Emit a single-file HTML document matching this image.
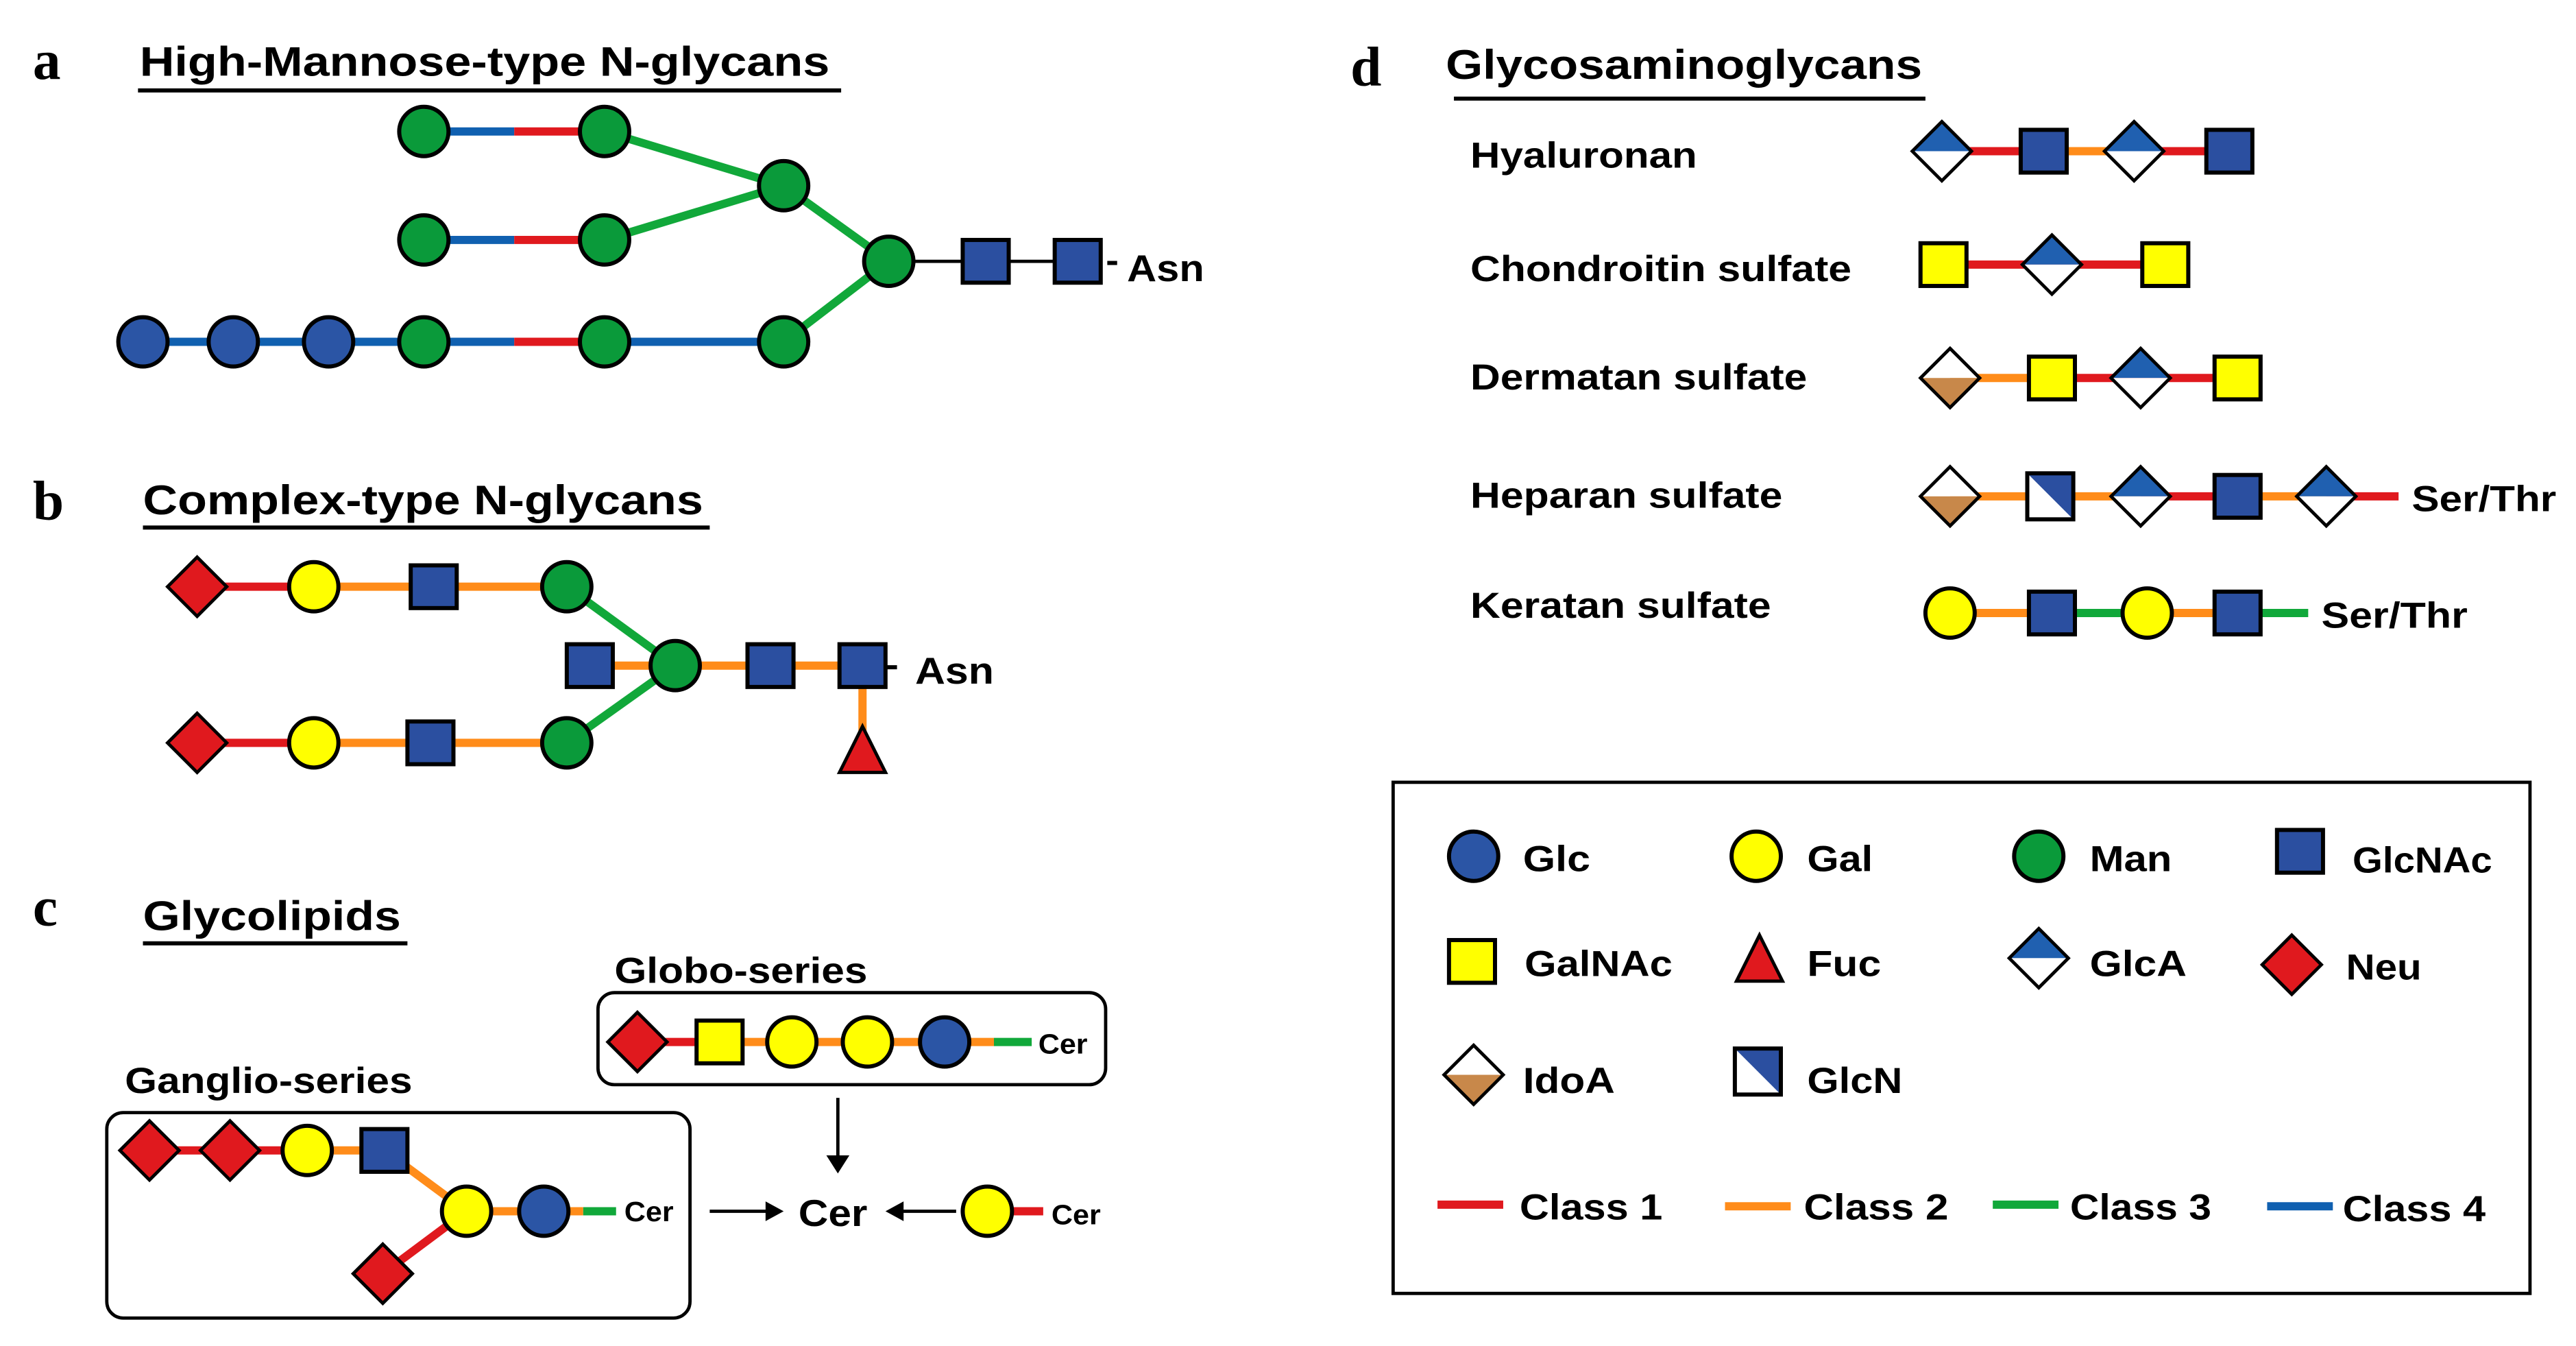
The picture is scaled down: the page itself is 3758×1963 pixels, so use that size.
<!DOCTYPE html>
<html><head><meta charset="utf-8"><style>
html,body{margin:0;padding:0;background:#fff}
svg{display:block}
text{font-family:"Liberation Sans",Arial,sans-serif;font-weight:bold;fill:#000}
</style></head><body>
<svg width="3758" height="1963" viewBox="0 0 1568 819" preserveAspectRatio="none" xmlns="http://www.w3.org/2000/svg">
<defs>
<circle id="glc" r="15" fill="#2b55a5" stroke="#000" stroke-width="2.5"/>
<circle id="gal" r="15" fill="#ffff00" stroke="#000" stroke-width="2.5"/>
<circle id="man" r="15" fill="#0a9a3a" stroke="#000" stroke-width="2.5"/>
<rect id="gnac" x="-14" y="-13" width="28" height="26" fill="#2b4fa0" stroke="#000" stroke-width="2.5"/>
<rect id="ganac" x="-14" y="-13" width="28" height="26" fill="#ffff00" stroke="#000" stroke-width="2.5"/>
<polygon id="neu" points="0,-18 18,0 0,18 -18,0" fill="#e0191e" stroke="#000" stroke-width="2"/>
<g id="glca"><polygon points="-18,0 0,-18 18,0" fill="#2060b0"/><polygon points="-18,0 0,18 18,0" fill="#fff"/><polygon points="0,-18 18,0 0,18 -18,0" fill="none" stroke="#000" stroke-width="2"/></g>
<g id="idoa"><polygon points="-18,0 0,-18 18,0" fill="#fff"/><polygon points="-18,0 0,18 18,0" fill="#c8884a"/><polygon points="0,-18 18,0 0,18 -18,0" fill="none" stroke="#000" stroke-width="2"/></g>
<g id="glcn"><rect x="-14" y="-14" width="28" height="28" fill="#fff"/><polygon points="-14,-14 14,-14 14,14" fill="#2b4fa0"/><rect x="-14" y="-14" width="28" height="28" fill="none" stroke="#000" stroke-width="2.5"/></g>
<polygon id="fuc" points="0,-16 14,12 -14,12" fill="#e0191e" stroke="#000" stroke-width="2"/>
</defs>

<!-- a -->
<text x="20" y="48" style="font-family:'Liberation Serif',serif;font-size:34px">a</text>
<text x="85" y="46" font-size="25" textLength="420" lengthAdjust="spacingAndGlyphs">High-Mannose-type N-glycans</text>
<line x1="84" y1="55" x2="512" y2="55" stroke="#000" stroke-width="2.5"/>
<g stroke-width="5">
<line x1="258" y1="80" x2="313" y2="80" stroke="#1060b0"/><line x1="313" y1="80" x2="368" y2="80" stroke="#e0191e"/>
<line x1="258" y1="146" x2="313" y2="146" stroke="#1060b0"/><line x1="313" y1="146" x2="368" y2="146" stroke="#e0191e"/>
<line x1="87" y1="208" x2="313" y2="208" stroke="#1060b0"/><line x1="313" y1="208" x2="368" y2="208" stroke="#e0191e"/><line x1="368" y1="208" x2="477" y2="208" stroke="#1060b0"/>
<line x1="368" y1="80" x2="477" y2="113" stroke="#11a83a"/><line x1="368" y1="146" x2="477" y2="113" stroke="#11a83a"/>
<line x1="477" y1="113" x2="541" y2="159" stroke="#11a83a"/><line x1="477" y1="208" x2="541" y2="159" stroke="#11a83a"/>
</g>
<line x1="541" y1="159" x2="670" y2="159" stroke="#000" stroke-width="2"/>
<line x1="674" y1="160" x2="680" y2="160" stroke="#000" stroke-width="2.5"/>
<use href="#man" x="258" y="80"/><use href="#man" x="368" y="80"/>
<use href="#man" x="258" y="146"/><use href="#man" x="368" y="146"/>
<use href="#man" x="477" y="113"/><use href="#man" x="541" y="159"/>
<use href="#glc" x="87" y="208"/><use href="#glc" x="142" y="208"/><use href="#glc" x="200" y="208"/>
<use href="#man" x="258" y="208"/><use href="#man" x="368" y="208"/><use href="#man" x="477" y="208"/>
<use href="#gnac" x="600" y="159"/><use href="#gnac" x="656" y="159"/>
<text x="686" y="171" font-size="23" textLength="47" lengthAdjust="spacingAndGlyphs">Asn</text>

<!-- b -->
<text x="20" y="316" style="font-family:'Liberation Serif',serif;font-size:34px">b</text>
<text x="87" y="313" font-size="25" textLength="341" lengthAdjust="spacingAndGlyphs">Complex-type N-glycans</text>
<line x1="87" y1="321" x2="432" y2="321" stroke="#000" stroke-width="2.5"/>
<g stroke-width="5">
<line x1="120" y1="357" x2="191" y2="357" stroke="#e0191e"/><line x1="191" y1="357" x2="345" y2="357" stroke="#ff8c1a"/>
<line x1="120" y1="452" x2="191" y2="452" stroke="#e0191e"/><line x1="191" y1="452" x2="345" y2="452" stroke="#ff8c1a"/>
<line x1="345" y1="357" x2="411" y2="405" stroke="#11a83a"/><line x1="345" y1="452" x2="411" y2="405" stroke="#11a83a"/>
<line x1="359" y1="405" x2="525" y2="405" stroke="#ff8c1a"/>
<line x1="525" y1="405" x2="525" y2="450" stroke="#ff8c1a"/>
</g>
<line x1="540" y1="406" x2="546" y2="406" stroke="#000" stroke-width="2.5"/>
<use href="#neu" x="120" y="357"/><use href="#gal" x="191" y="357"/><use href="#gnac" x="264" y="357"/><use href="#man" x="345" y="357"/>
<use href="#neu" x="120" y="452"/><use href="#gal" x="191" y="452"/><use href="#gnac" x="262" y="452"/><use href="#man" x="345" y="452"/>
<use href="#gnac" x="359" y="405"/><use href="#man" x="411" y="405"/><use href="#gnac" x="469" y="405"/><use href="#gnac" x="525" y="405"/>
<use href="#fuc" x="525" y="458"/>
<text x="557" y="416" font-size="23" textLength="48" lengthAdjust="spacingAndGlyphs">Asn</text>

<!-- c -->
<text x="20" y="563" style="font-family:'Liberation Serif',serif;font-size:34px">c</text>
<text x="87" y="566" font-size="25" textLength="157" lengthAdjust="spacingAndGlyphs">Glycolipids</text>
<line x1="87" y1="574" x2="248" y2="574" stroke="#000" stroke-width="2.5"/>
<text x="374" y="598" font-size="22" textLength="154" lengthAdjust="spacingAndGlyphs">Globo-series</text>
<rect x="364" y="604" width="309" height="56" rx="10" fill="none" stroke="#000" stroke-width="2"/>
<g stroke-width="5">
<line x1="388" y1="634" x2="438" y2="634" stroke="#e0191e"/><line x1="438" y1="634" x2="605" y2="634" stroke="#ff8c1a"/><line x1="605" y1="634" x2="628" y2="634" stroke="#11a83a"/>
</g>
<use href="#neu" x="388" y="634"/><use href="#ganac" x="438" y="634"/><use href="#gal" x="482" y="634"/><use href="#gal" x="528" y="634"/><use href="#glc" x="575" y="634"/>
<text x="632" y="641" font-size="17" textLength="30" lengthAdjust="spacingAndGlyphs">Cer</text>
<line x1="510" y1="668" x2="510" y2="708" stroke="#000" stroke-width="2"/><polygon points="503,703 517,703 510,714" fill="#000"/>
<text x="76" y="665" font-size="22" textLength="175" lengthAdjust="spacingAndGlyphs">Ganglio-series</text>
<rect x="65" y="677" width="355" height="125" rx="10" fill="none" stroke="#000" stroke-width="2"/>
<g stroke-width="5">
<line x1="91" y1="700" x2="187" y2="700" stroke="#e0191e"/><line x1="187" y1="700" x2="234" y2="700" stroke="#ff8c1a"/>
<line x1="234" y1="700" x2="284" y2="737" stroke="#ff8c1a"/>
<line x1="284" y1="737" x2="355" y2="737" stroke="#ff8c1a"/><line x1="355" y1="737" x2="375" y2="737" stroke="#11a83a"/>
<line x1="284" y1="737" x2="233" y2="775" stroke="#e0191e"/>
</g>
<use href="#neu" x="91" y="700"/><use href="#neu" x="140" y="700"/><use href="#gal" x="187" y="700"/><use href="#gnac" x="234" y="700"/>
<use href="#gal" x="284" y="737"/><use href="#glc" x="331" y="737"/><use href="#neu" x="233" y="775"/>
<text x="380" y="743" font-size="17" textLength="30" lengthAdjust="spacingAndGlyphs">Cer</text>
<line x1="432" y1="737" x2="470" y2="737" stroke="#000" stroke-width="2"/><polygon points="466,731 466,743 477,737" fill="#000"/>
<text x="486" y="746" font-size="23" textLength="42" lengthAdjust="spacingAndGlyphs">Cer</text>
<line x1="582" y1="737" x2="546" y2="737" stroke="#000" stroke-width="2"/><polygon points="550,731 550,743 539,737" fill="#000"/>
<line x1="601" y1="737" x2="635" y2="737" stroke="#e0191e" stroke-width="5"/>
<use href="#gal" x="601" y="737"/>
<text x="640" y="745" font-size="17" textLength="30" lengthAdjust="spacingAndGlyphs">Cer</text>

<!-- d -->
<text x="822" y="52" style="font-family:'Liberation Serif',serif;font-size:34px">d</text>
<text x="880" y="48" font-size="25" textLength="290" lengthAdjust="spacingAndGlyphs">Glycosaminoglycans</text>
<line x1="885" y1="60" x2="1172" y2="60" stroke="#000" stroke-width="2.5"/>
<g font-size="22">
<text x="895" y="102" textLength="138" lengthAdjust="spacingAndGlyphs">Hyaluronan</text>
<text x="895" y="171" textLength="232" lengthAdjust="spacingAndGlyphs">Chondroitin sulfate</text>
<text x="895" y="237" textLength="205" lengthAdjust="spacingAndGlyphs">Dermatan sulfate</text>
<text x="895" y="309" textLength="190" lengthAdjust="spacingAndGlyphs">Heparan sulfate</text>
<text x="895" y="376" textLength="183" lengthAdjust="spacingAndGlyphs">Keratan sulfate</text>
</g>
<g stroke-width="5">
<line x1="1182" y1="92" x2="1244" y2="92" stroke="#e0191e"/><line x1="1244" y1="92" x2="1299" y2="92" stroke="#ff8c1a"/><line x1="1299" y1="92" x2="1357" y2="92" stroke="#e0191e"/>
<line x1="1183" y1="161" x2="1318" y2="161" stroke="#e0191e"/>
<line x1="1187" y1="230" x2="1249" y2="230" stroke="#ff8c1a"/><line x1="1249" y1="230" x2="1362" y2="230" stroke="#e0191e"/>
<line x1="1187" y1="302" x2="1303" y2="302" stroke="#ff8c1a"/><line x1="1303" y1="302" x2="1362" y2="302" stroke="#e0191e"/><line x1="1362" y1="302" x2="1416" y2="302" stroke="#ff8c1a"/><line x1="1416" y1="302" x2="1460" y2="302" stroke="#e0191e"/>
<line x1="1187" y1="373" x2="1249" y2="373" stroke="#ff8c1a"/><line x1="1249" y1="373" x2="1307" y2="373" stroke="#11a83a"/><line x1="1307" y1="373" x2="1362" y2="373" stroke="#ff8c1a"/><line x1="1362" y1="373" x2="1405" y2="373" stroke="#11a83a"/>
</g>
<use href="#glca" x="1182" y="92"/><use href="#gnac" x="1244" y="92"/><use href="#glca" x="1299" y="92"/><use href="#gnac" x="1357" y="92"/>
<use href="#ganac" x="1183" y="161"/><use href="#glca" x="1249" y="161"/><use href="#ganac" x="1318" y="161"/>
<use href="#idoa" x="1187" y="230"/><use href="#ganac" x="1249" y="230"/><use href="#glca" x="1303" y="230"/><use href="#ganac" x="1362" y="230"/>
<use href="#idoa" x="1187" y="302"/><use href="#glcn" x="1248" y="302"/><use href="#glca" x="1303" y="302"/><use href="#gnac" x="1362" y="302"/><use href="#glca" x="1416" y="302"/>
<text x="1468" y="311" font-size="22" textLength="88" lengthAdjust="spacingAndGlyphs">Ser/Thr</text>
<use href="#gal" x="1187" y="373"/><use href="#gnac" x="1249" y="373"/><use href="#gal" x="1307" y="373"/><use href="#gnac" x="1362" y="373"/>
<text x="1413" y="382" font-size="22" textLength="89" lengthAdjust="spacingAndGlyphs">Ser/Thr</text>

<!-- legend -->
<rect x="848" y="476" width="692" height="311" fill="none" stroke="#000" stroke-width="2"/>
<g font-size="22">
<use href="#glc" x="897" y="521"/><text x="927" y="530" textLength="41" lengthAdjust="spacingAndGlyphs">Glc</text>
<use href="#gal" x="1069" y="521"/><text x="1100" y="530" textLength="40" lengthAdjust="spacingAndGlyphs">Gal</text>
<use href="#man" x="1241" y="521"/><text x="1272" y="530" textLength="50" lengthAdjust="spacingAndGlyphs">Man</text>
<use href="#gnac" x="1400" y="518"/><text x="1432" y="531" textLength="85" lengthAdjust="spacingAndGlyphs">GlcNAc</text>
<use href="#ganac" x="896" y="585"/><text x="928" y="594" textLength="90" lengthAdjust="spacingAndGlyphs">GalNAc</text>
<use href="#fuc" x="1071" y="585"/><text x="1100" y="594" textLength="45" lengthAdjust="spacingAndGlyphs">Fuc</text>
<use href="#glca" x="1241" y="583"/><text x="1272" y="594" textLength="59" lengthAdjust="spacingAndGlyphs">GlcA</text>
<use href="#neu" x="1395" y="587"/><text x="1428" y="596" textLength="46" lengthAdjust="spacingAndGlyphs">Neu</text>
<use href="#idoa" x="897" y="654"/><text x="927" y="665" textLength="56" lengthAdjust="spacingAndGlyphs">IdoA</text>
<use href="#glcn" x="1070" y="652"/><text x="1100" y="665" textLength="58" lengthAdjust="spacingAndGlyphs">GlcN</text>
<line x1="875" y1="733" x2="915" y2="733" stroke="#e0191e" stroke-width="5"/><text x="925" y="742" textLength="87" lengthAdjust="spacingAndGlyphs">Class 1</text>
<line x1="1050" y1="734" x2="1090" y2="734" stroke="#ff8c1a" stroke-width="5"/><text x="1098" y="742" textLength="88" lengthAdjust="spacingAndGlyphs">Class 2</text>
<line x1="1213" y1="733" x2="1253" y2="733" stroke="#11a83a" stroke-width="5"/><text x="1260" y="742" textLength="86" lengthAdjust="spacingAndGlyphs">Class 3</text>
<line x1="1380" y1="734" x2="1420" y2="734" stroke="#1060b0" stroke-width="5"/><text x="1426" y="743" textLength="87" lengthAdjust="spacingAndGlyphs">Class 4</text>
</g>
</svg>
</body></html>
